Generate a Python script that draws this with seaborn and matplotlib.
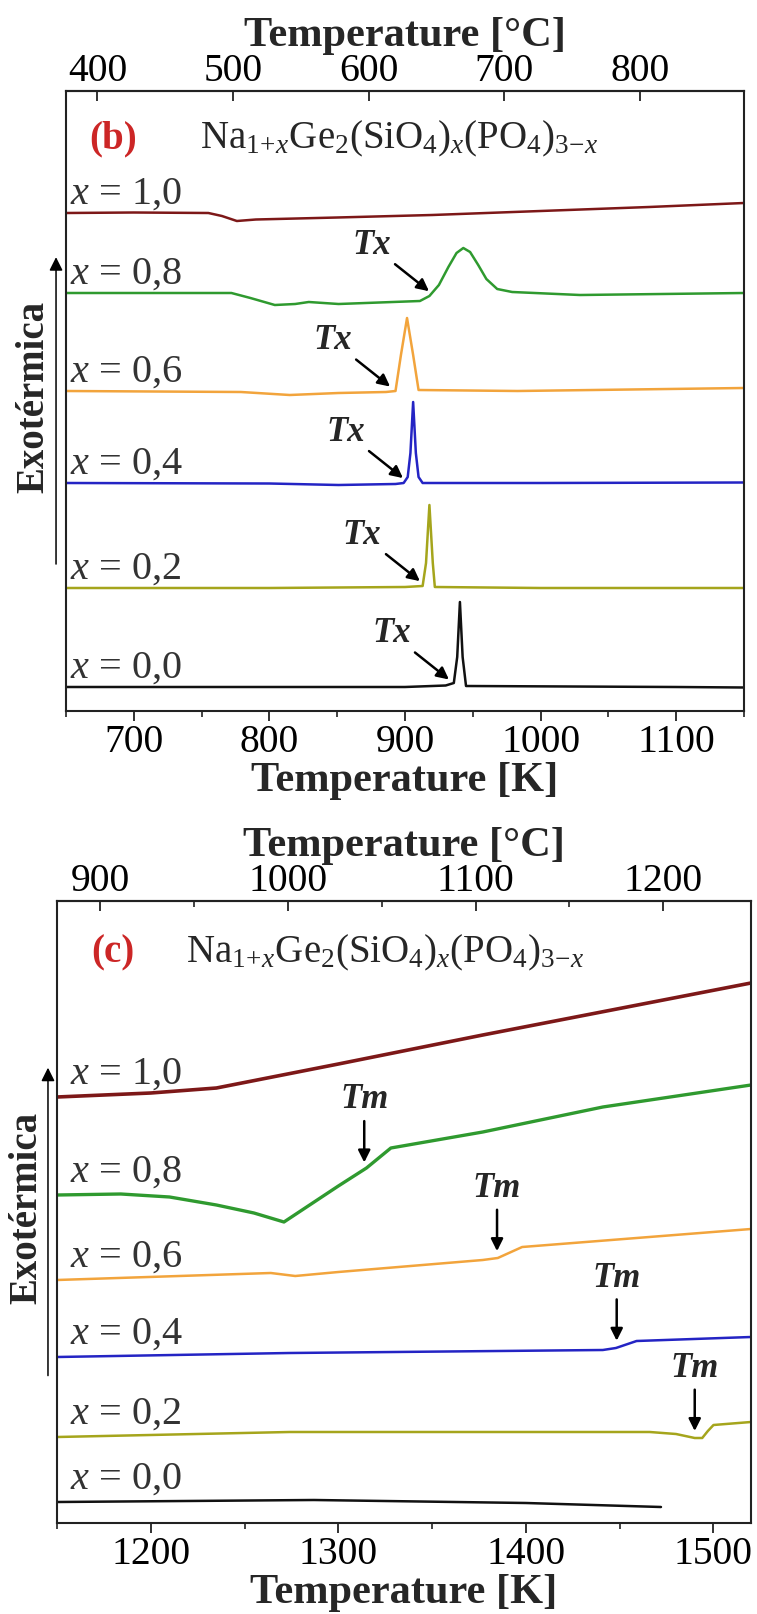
import numpy as np
import pandas as pd
import matplotlib
matplotlib.use("Agg")
import matplotlib.pyplot as plt
from matplotlib.ticker import FixedLocator
import seaborn as sns

sns.set_theme(style="ticks")
plt.rcParams["font.family"] = ["Liberation Serif", "DejaVu Serif"]
plt.rcParams["mathtext.fontset"] = "custom"
plt.rcParams["mathtext.rm"] = "Liberation Serif"
plt.rcParams["mathtext.it"] = "Liberation Serif:italic"
plt.rcParams["mathtext.bf"] = "Liberation Serif:bold"

# ---------------------------------------------------------------- data
compositions = ["0,0", "0,2", "0,4", "0,6", "0,8", "1,0"]
colors = ["#111111", "#a5a51c", "#2424c4", "#f2a43c", "#2f9a2f", "#7d1818"]

# (b) crystallisation region, DSC signal (a.u.) vs temperature (K)
b_T_00 = [650, 900, 930, 936, 938.5, 940.5, 942.5, 945, 1100, 1150]
b_S_00 = [0, 0, 0.15, 0.4, 3.0, 8.5, 3.0, 0.1, 0, -0.05]
b_T_02 = [650, 800, 900, 913, 915.5, 918, 920.5, 922, 1000, 1150]
b_S_02 = [0, 0, 0.1, 0.2, 2.5, 8.3, 2.5, 0.1, 0, 0]
b_T_04 = [650, 800, 851, 893, 899, 902, 904, 906, 908, 910, 913, 1000, 1150]
b_S_04 = [0, -0.05, -0.2, -0.1, 0, 0.6, 3.0, 8.1, 3.0, 0.6, 0, 0, 0.05]
b_T_06 = [650, 779, 815, 851, 886, 893, 897, 901.5, 906, 910, 983, 1150]
b_S_06 = [0, -0.1, -0.4, -0.2, -0.1, 0.0, 3.6, 7.3, 3.6, 0.1, 0, 0.3]
b_T_08 = [650, 772, 786, 804, 819, 829, 851, 911, 918, 925, 932, 938, 943,
          948, 954, 960, 968, 979, 1029, 1150]
b_S_08 = [0, 0, -0.5, -1.2, -1.1, -0.9, -1.1, -0.8, -0.3, 0.8, 2.6, 4.0, 4.5,
          4.1, 2.8, 1.4, 0.4, 0.1, -0.2, 0]
b_T_10 = [650, 700, 755, 765, 776, 790, 850, 920, 1000, 1080, 1150]
b_S_10 = [0, 0.05, 0, -0.3, -0.8, -0.65, -0.45, -0.2, 0.2, 0.6, 1.0]
b_Tx = [932.4, 911.0, 898.5, 889.0, 917.7]   # onset of crystallisation, x = 0,0 ... 0,8

# (c) melting region
c_T_00 = [1150, 1287, 1400, 1472]
c_S_00 = [0, 0.2, -0.1, -0.5]
c_T_02 = [1150, 1274, 1466, 1480, 1490, 1494, 1497, 1500, 1520]
c_S_02 = [0, 0.5, 0.5, 0.3, -0.1, -0.1, 0.6, 1.2, 1.5]
c_T_04 = [1150, 1274, 1441, 1448, 1459, 1520]
c_S_04 = [0, 0.4, 0.7, 0.9, 1.6, 2.0]
c_T_06 = [1150, 1264, 1277, 1300, 1377, 1385, 1398, 1520]
c_S_06 = [0, 0.7, 0.4, 0.8, 2.0, 2.2, 3.3, 5.1]
c_T_08 = [1150, 1184, 1210, 1235, 1255, 1271, 1300, 1315, 1328, 1377, 1441, 1520]
c_S_08 = [0, 0.1, -0.2, -1.0, -1.8, -2.7, 0.9, 2.7, 4.7, 6.3, 8.8, 11.0]
c_T_10 = [1150, 1200, 1235, 1300, 1377, 1520]
c_S_10 = [0, 0.4, 0.9, 3.3, 6.2, 11.4]
c_Tm = [1490.0, 1448.4, 1384.6, 1313.8]        # melting, x = 0,2 ... 0,8

b_curves = [(b_T_00, b_S_00), (b_T_02, b_S_02), (b_T_04, b_S_04),
            (b_T_06, b_S_06), (b_T_08, b_S_08), (b_T_10, b_S_10)]
c_curves = [(c_T_00, c_S_00), (c_T_02, c_S_02), (c_T_04, c_S_04),
            (c_T_06, c_S_06), (c_T_08, c_S_08), (c_T_10, c_S_10)]

# vertical stacking of the curves
b_offset = [2.4, 12.3, 22.8, 32.0, 41.8, 49.8]
c_offset = [2.1, 8.6, 16.6, 24.3, 32.8, 42.6]

formula = r"Na$_{1\!+\!x}$Ge$_2$(SiO$_4$)$_x$(PO$_4$)$_{3\!-\!x}$"

# ---------------------------------------------------------------- figure
W, H = 757, 1614
fig = plt.figure(figsize=(W / 100, H / 100), dpi=100)


def frac(l, t, r, b):
    return [l / W, 1 - b / H, (r - l) / W, (b - t) / H]


ax_b = fig.add_axes(frac(66, 91, 744, 711))
ax_c = fig.add_axes(frac(57, 901, 751, 1523))

TICK = 28.5
TITLE = 30.5
LAB = 29


def draw_curves(ax, curves, offsets, lws):
    for (T, S), off, col, lw in zip(curves, offsets, colors, lws):
        df = pd.DataFrame({"T": T, "S": np.asarray(S, float) + off})
        sns.lineplot(data=df, x="T", y="S", ax=ax, color=col, linewidth=lw,
                     estimator=None, sort=False)


def style_axes(ax, xlim, ylim, major, minor, cticks, cminor, letter, fx, lab_x):
    ax.set_xlim(*xlim)
    ax.set_ylim(*ylim)
    ax.set_yticks([])
    ax.set_ylabel("")
    ax.xaxis.set_major_locator(FixedLocator(major))
    ax.xaxis.set_minor_locator(FixedLocator(minor))
    ax.tick_params(axis="x", which="major", direction="out", length=7, width=1.3,
                   labelsize=TICK, pad=2, colors="#222222", labelcolor="black")
    ax.tick_params(axis="x", which="minor", direction="out", length=4.5, width=1.2,
                   colors="#222222")
    ax.set_xlabel("Temperature [K]", fontsize=TITLE, fontweight="bold", labelpad=1)
    for sp in ax.spines.values():
        sp.set_visible(True)
        sp.set_linewidth(1.5)
        sp.set_color("#222222")

    sec = ax.secondary_xaxis("top", functions=(lambda k: k - 273.15,
                                                lambda c: c + 273.15))
    sec.xaxis.set_major_locator(FixedLocator(cticks))
    sec.xaxis.set_minor_locator(FixedLocator(cminor))
    sec.tick_params(axis="x", which="major", direction="in", length=7, width=1.3,
                    labelsize=TICK, pad=1, colors="#222222", labelcolor="black")
    sec.tick_params(axis="x", which="minor", direction="in", length=4.5, width=1.2,
                    colors="#222222")
    sec.spines["top"].set_linewidth(1.5)
    sec.set_xlabel("Temperature [°C]", fontsize=TITLE, fontweight="bold", labelpad=5)

    ax.text(fx[0], fx[2], letter, transform=ax.transAxes, fontsize=28,
            fontweight="bold", color="#cc2626", va="baseline", ha="left")
    ax.text(fx[1], fx[2], formula, transform=ax.transAxes, fontsize=28,
            va="baseline", ha="left")

    ax.text(lab_x[0], 0.506, "Exotérmica", transform=ax.transAxes, rotation=90,
            ha="center", va="center", fontsize=28, fontweight="bold")
    ax.annotate("", xy=(lab_x[1], 0.732), xytext=(lab_x[1], 0.237),
                xycoords="axes fraction", annotation_clip=False,
                arrowprops=dict(arrowstyle="-|>", color="black", lw=1.1,
                                mutation_scale=20, shrinkA=0, shrinkB=0))


# ----- panel (b)
draw_curves(ax_b, b_curves, b_offset, [1.8] * 6)
style_axes(ax_b, (650, 1150), (0, 62), [700, 800, 900, 1000, 1100],
           [650, 750, 850, 950, 1050, 1150], [400, 500, 600, 700, 800], [],
           "(b)", (0.034, 0.198, 0.908), (-0.047, -0.0147))
for lab, off in zip(compositions, b_offset):
    ax_b.text(653, off + 0.9, rf"$x$ = {lab}", fontsize=LAB, color="#333333",
              ha="left", va="baseline")
for (T, S), off, tx in zip(b_curves[:5], b_offset[:5], b_Tx):
    y_tip = off + np.interp(tx, T, S) + 0.5
    ax_b.annotate("Tx", xy=(tx, y_tip), xytext=(-41.5, 33),
                  textcoords="offset points", ha="center", va="center",
                  fontsize=25, fontweight="bold", fontstyle="italic",
                  arrowprops=dict(arrowstyle="-|>", color="black", lw=1.8,
                                  mutation_scale=18, shrinkA=1, shrinkB=0))

# ----- panel (c)
draw_curves(ax_c, c_curves, c_offset, [1.8, 1.8, 1.8, 1.8, 2.4, 2.6])
style_axes(ax_c, (1150, 1520), (0, 62.2), [1200, 1300, 1400, 1500],
           [1150, 1250, 1350, 1450], [900, 1000, 1100, 1200], [950, 1050, 1150],
           "(c)", (0.050, 0.186, 0.902), (-0.043, -0.013))
for lab, off in zip(compositions, c_offset):
    ax_c.text(1157, off + 1.3, rf"$x$ = {lab}", fontsize=LAB, color="#333333",
              ha="left", va="baseline")
for (T, S), off, tm in zip(c_curves[1:5], c_offset[1:5], c_Tm):
    y_tip = off + np.interp(tm, T, S) + 0.7
    ax_c.annotate("Tm", xy=(tm, y_tip), xytext=(0, 45),
                  textcoords="offset points", ha="center", va="center",
                  fontsize=25, fontweight="bold", fontstyle="italic",
                  arrowprops=dict(arrowstyle="-|>", color="black", lw=1.8,
                                  mutation_scale=18, shrinkA=1, shrinkB=0))

fig.savefig("out.png", dpi=100)
